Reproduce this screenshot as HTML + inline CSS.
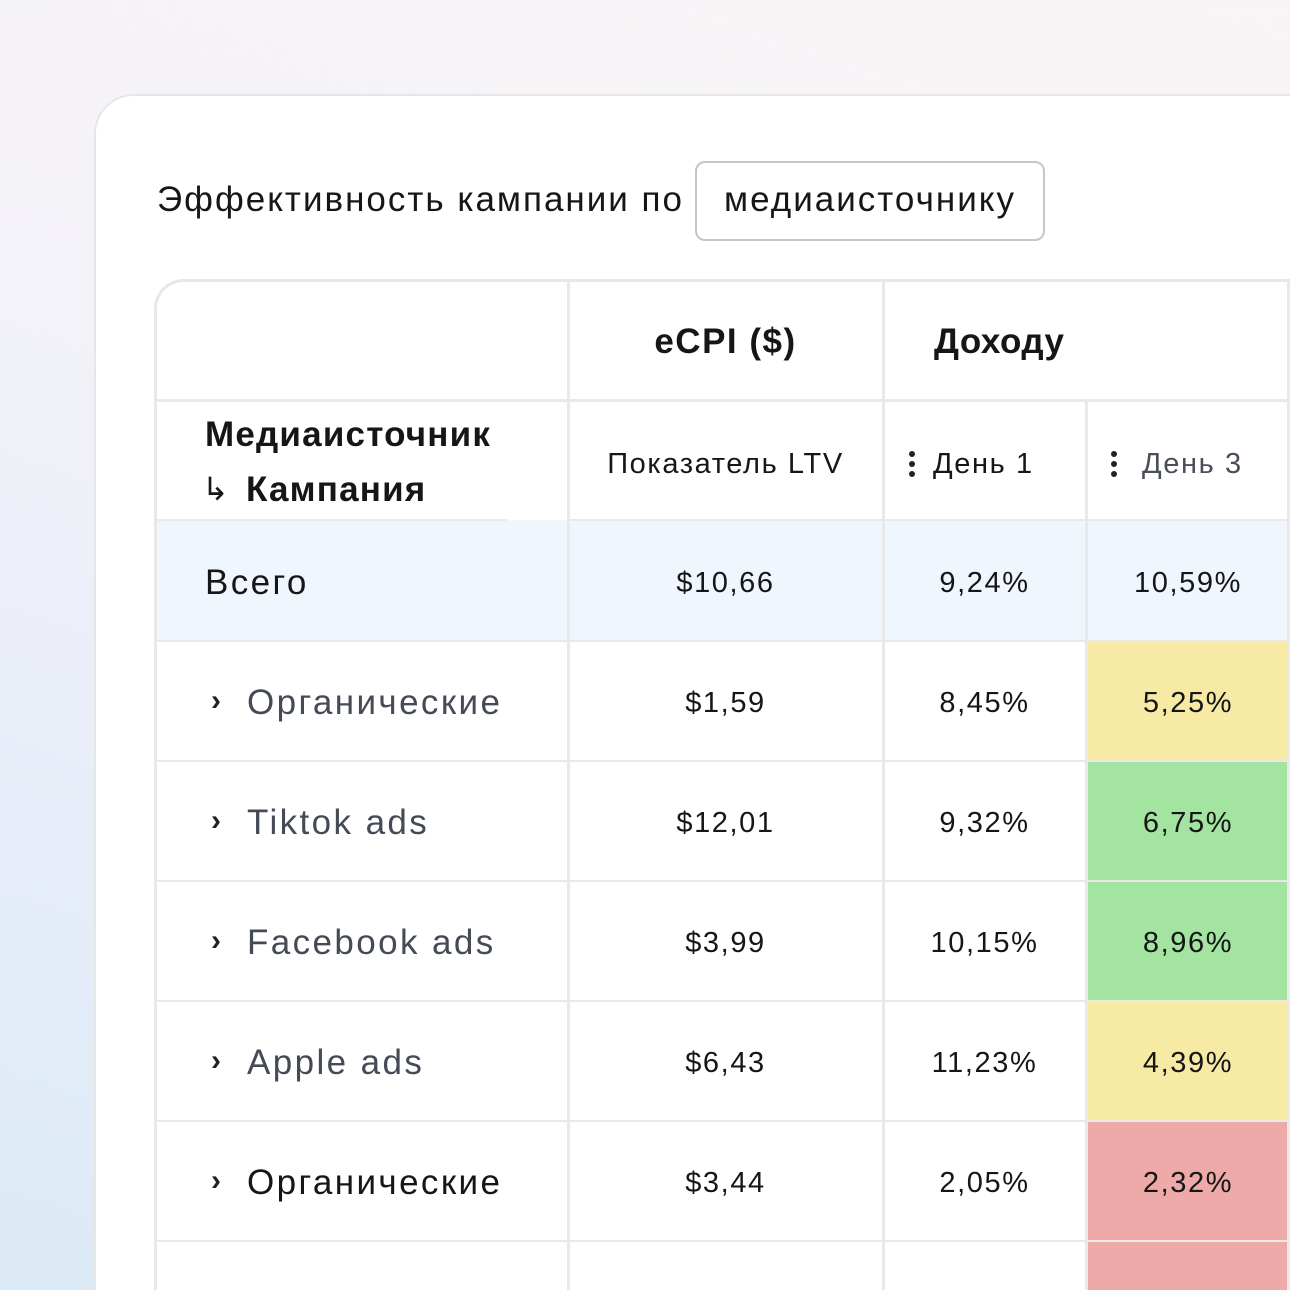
<!DOCTYPE html>
<html><head><meta charset="utf-8"><style>
*{margin:0;padding:0;box-sizing:border-box}
html,body{width:1290px;height:1290px;overflow:hidden}
body{position:relative;font-family:"Liberation Sans",sans-serif;color:#161616;
background:linear-gradient(200deg,#f9f4f6 0%,#f5f3f8 35%,#eaeef9 65%,#dbeaf6 100%);}
.card{position:absolute;left:94px;top:94px;width:1250px;height:1250px;background:#fff;border:2px solid #e6e6e6;border-radius:40px}
.t{position:absolute;white-space:nowrap}
.tbl{position:absolute;left:154px;top:279px;width:1180px;height:1050px;border:3px solid #e8e8e8;border-radius:30px;overflow:hidden;background:#fff}
.h{position:absolute;background:#e9e9e9}
.c{position:absolute;white-space:nowrap;text-align:center;font-size:29px;letter-spacing:1.6px}
.lbl{position:absolute;white-space:nowrap;font-size:35px;color:#454b56;letter-spacing:2.4px}
.ar{position:absolute;font-size:30px;color:#222;font-weight:bold}
.fill{position:absolute}
.dots{position:absolute;width:6px}
.dots i{display:block;width:6px;height:6px;border-radius:50%;background:#222;margin-bottom:4px}
</style></head><body>
<div class="card"></div>
<div class="t" style="left:157px;top:180px;font-size:35px;letter-spacing:2px">Эффективность кампании по</div>
<div style="position:absolute;left:695px;top:161px;width:350px;height:80px;border:2px solid #c6c6c6;border-radius:10px;background:#fff"></div>
<div class="t" style="left:695px;width:350px;text-align:center;top:180px;font-size:35px;letter-spacing:2px">медиаисточнику</div>

<div class="tbl">
 <div class="fill" style="left:0;top:238px;width:1200px;height:120px;background:#f0f6fe"></div>
 <div class="fill" style="left:931px;top:358px;width:300px;height:120px;background:#f7eaa5"></div>
 <div class="fill" style="left:931px;top:478px;width:300px;height:240px;background:#a2e4a0"></div>
 <div class="fill" style="left:931px;top:718px;width:300px;height:120px;background:#f7eaa5"></div>
 <div class="fill" style="left:931px;top:838px;width:300px;height:300px;background:#eeaaa8"></div>
 <div class="h" style="left:0;top:117px;width:1200px;height:3px"></div>
 <div class="h" style="left:0;top:237px;width:350px;height:2px"></div>
 <div class="h" style="left:411px;top:237px;width:800px;height:2px"></div>
 <div class="h" style="left:0;top:358px;width:1200px;height:2px"></div>
 <div class="h" style="left:0;top:478px;width:1200px;height:2px"></div>
 <div class="h" style="left:0;top:598px;width:1200px;height:2px"></div>
 <div class="h" style="left:0;top:718px;width:1200px;height:2px"></div>
 <div class="h" style="left:0;top:838px;width:1200px;height:2px"></div>
 <div class="h" style="left:0;top:958px;width:1200px;height:2px"></div>
 <div class="h" style="left:410px;top:0;width:3px;height:1100px"></div>
 <div class="h" style="left:725px;top:0;width:3px;height:1100px"></div>
 <div class="h" style="left:928px;top:118px;width:3px;height:1100px"></div>
 <div class="h" style="left:1130px;top:0;width:3px;height:1100px"></div>
</div>

<div class="t" style="left:568px;width:315px;text-align:center;top:322px;font-size:35px;font-weight:bold;letter-spacing:1.5px">eCPI ($)</div>
<div class="t" style="left:934px;top:322px;font-size:35px;font-weight:bold;letter-spacing:0.5px">Доходу</div>
<div class="t" style="left:205px;top:415px;font-size:35px;font-weight:bold;letter-spacing:1.2px">Медиаисточник</div>
<div class="t" style="left:202px;top:470px;font-size:32px">↳</div>
<div class="t" style="left:246px;top:470px;font-size:35px;font-weight:bold;letter-spacing:1.2px">Кампания</div>
<div class="c" style="left:568px;width:315px;top:448px;letter-spacing:1.6px">Показатель LTV</div>
<div class="dots" style="left:909px;top:451px"><i></i><i></i><i></i></div>
<div class="t" style="left:933px;top:448px;font-size:29px;letter-spacing:1.6px">День 1</div>
<div class="dots" style="left:1111px;top:451px"><i></i><i></i><i></i></div>
<div class="t" style="left:1142px;top:448px;font-size:29px;letter-spacing:1.6px;color:#4a4f5a">День 3</div>

<div class="lbl" style="left:205px;top:563px;color:#161616">Всего</div>
<div class="c" style="left:568px;width:315px;top:567px">$10,66</div>
<div class="c" style="left:883px;width:203px;top:567px">9,24%</div>
<div class="c" style="left:1086px;width:204px;top:567px">10,59%</div>

<div class="ar" style="left:211px;top:684px">›</div><div class="lbl" style="left:247px;top:683px">Органические</div>
<div class="c" style="left:568px;width:315px;top:687px">$1,59</div>
<div class="c" style="left:883px;width:203px;top:687px">8,45%</div>
<div class="c" style="left:1086px;width:204px;top:687px">5,25%</div>

<div class="ar" style="left:211px;top:804px">›</div><div class="lbl" style="left:247px;top:803px">Tiktok ads</div>
<div class="c" style="left:568px;width:315px;top:807px">$12,01</div>
<div class="c" style="left:883px;width:203px;top:807px">9,32%</div>
<div class="c" style="left:1086px;width:204px;top:807px">6,75%</div>

<div class="ar" style="left:211px;top:924px">›</div><div class="lbl" style="left:247px;top:923px">Facebook ads</div>
<div class="c" style="left:568px;width:315px;top:927px">$3,99</div>
<div class="c" style="left:883px;width:203px;top:927px">10,15%</div>
<div class="c" style="left:1086px;width:204px;top:927px">8,96%</div>

<div class="ar" style="left:211px;top:1044px">›</div><div class="lbl" style="left:247px;top:1043px">Apple ads</div>
<div class="c" style="left:568px;width:315px;top:1047px">$6,43</div>
<div class="c" style="left:883px;width:203px;top:1047px">11,23%</div>
<div class="c" style="left:1086px;width:204px;top:1047px">4,39%</div>

<div class="ar" style="left:211px;top:1164px">›</div><div class="lbl" style="left:247px;top:1163px;color:#161616">Органические</div>
<div class="c" style="left:568px;width:315px;top:1167px">$3,44</div>
<div class="c" style="left:883px;width:203px;top:1167px">2,05%</div>
<div class="c" style="left:1086px;width:204px;top:1167px">2,32%</div>
</body></html>
